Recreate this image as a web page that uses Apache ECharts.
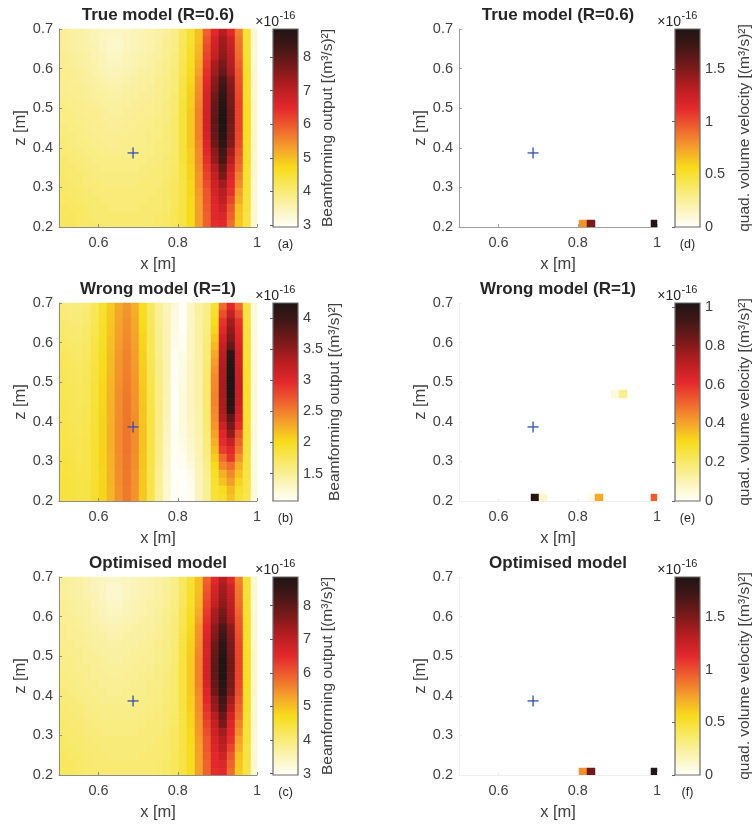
<!DOCTYPE html>
<html>
<head>
<meta charset="utf-8">
<script src="https://cdn.jsdelivr.net/npm/echarts@6/dist/echarts.min.js"></script>
<style>html,body{margin:0;padding:0;background:#fff}#chart{width:754px;height:825px}</style>
</head>
<body>
<div id="chart"></div>
<script>
// ---------- DATA ----------
// left edges (x) and top edges (z) of the 25 x 25 grid cells [m]
const xCellEdges = [0.5000,0.5202,0.5404,0.5606,0.5808,0.6010,0.6212,0.6414,0.6616,0.6818,0.7020,0.7222,0.7424,0.7626,0.7828,0.8030,0.8232,0.8434,0.8636,0.8838,0.9040,0.9242,0.9444,0.9646,0.9848];
const zCellEdges = [0.7024,0.6822,0.6620,0.6418,0.6216,0.6014,0.5812,0.5610,0.5408,0.5206,0.5004,0.4802,0.4600,0.4398,0.4196,0.3994,0.3792,0.3590,0.3388,0.3186,0.2984,0.2782,0.2580,0.2378,0.2176];
const cellSize = 0.0202;

const xTicks = [0.6, 0.8, 1.0];
const zTicks = [0.2, 0.3, 0.4, 0.5, 0.6, 0.7];

// Beamforming output, true model (R=0.6), x1e-16; rows from z=0.7 (top) down, columns from x=0.5
const beamTrueRows = [
 [3.75,3.7,3.65,3.6,3.5,3.45,3.4,3.4,3.45,3.5,3.55,3.6,3.65,3.75,3.9,4.2,4.55,5.0,5.9,6.5,7.1,6.5,5.6,4.5,3.3],
 [3.75,3.7,3.65,3.6,3.5,3.45,3.35,3.35,3.45,3.5,3.55,3.6,3.65,3.8,3.9,4.2,4.55,5.0,6.0,6.7,7.3,6.8,5.7,4.5,3.3],
 [3.75,3.7,3.65,3.6,3.55,3.45,3.35,3.35,3.45,3.5,3.55,3.6,3.7,3.8,3.9,4.25,4.6,5.05,6.1,6.8,7.4,6.9,5.75,4.5,3.3],
 [3.8,3.75,3.7,3.65,3.55,3.5,3.4,3.4,3.5,3.55,3.6,3.65,3.7,3.8,3.95,4.25,4.6,5.1,6.2,6.9,7.5,7.0,5.8,4.55,3.3],
 [3.8,3.75,3.7,3.65,3.6,3.5,3.45,3.45,3.5,3.55,3.6,3.65,3.75,3.85,3.95,4.3,4.65,5.2,6.3,7.2,7.7,7.1,5.9,4.55,3.3],
 [3.8,3.8,3.75,3.7,3.6,3.55,3.5,3.5,3.55,3.6,3.65,3.7,3.75,3.85,4.0,4.3,4.7,5.3,6.4,7.3,7.9,7.2,6.0,4.6,3.35],
 [3.85,3.8,3.75,3.7,3.65,3.6,3.55,3.55,3.6,3.65,3.7,3.7,3.8,3.9,4.0,4.35,4.75,5.4,6.5,7.5,8.2,7.5,6.05,4.6,3.35],
 [3.85,3.8,3.8,3.75,3.7,3.65,3.6,3.6,3.65,3.7,3.7,3.75,3.8,3.9,4.0,4.4,4.8,5.45,6.6,7.6,8.4,7.6,6.1,4.6,3.35],
 [3.85,3.85,3.8,3.75,3.7,3.7,3.65,3.65,3.7,3.7,3.75,3.75,3.85,3.9,4.05,4.4,4.85,5.5,6.7,7.8,8.6,7.7,6.15,4.6,3.35],
 [3.9,3.85,3.85,3.8,3.75,3.7,3.7,3.7,3.7,3.75,3.75,3.8,3.85,3.95,4.05,4.45,4.85,5.55,6.7,7.9,8.7,7.75,6.2,4.65,3.4],
 [3.9,3.9,3.85,3.8,3.8,3.75,3.7,3.7,3.75,3.75,3.8,3.8,3.85,3.95,4.05,4.45,4.9,5.6,6.75,7.95,8.8,7.8,6.2,4.65,3.4],
 [3.9,3.9,3.85,3.85,3.8,3.75,3.75,3.75,3.75,3.8,3.8,3.85,3.9,3.95,4.1,4.45,4.9,5.6,6.75,8.0,8.84,7.8,6.2,4.65,3.4],
 [3.95,3.9,3.9,3.85,3.8,3.8,3.75,3.75,3.8,3.8,3.85,3.85,3.9,4.0,4.1,4.45,4.9,5.6,6.75,7.95,8.8,7.75,6.2,4.65,3.4],
 [3.95,3.95,3.9,3.85,3.85,3.8,3.8,3.8,3.8,3.85,3.85,3.9,3.9,4.0,4.1,4.45,4.9,5.6,6.7,7.9,8.7,7.7,6.15,4.65,3.4],
 [4.0,3.95,3.9,3.9,3.85,3.85,3.8,3.8,3.85,3.85,3.85,3.9,3.95,4.0,4.1,4.45,4.9,5.55,6.6,7.8,8.6,7.6,6.1,4.6,3.4],
 [4.0,4.0,3.95,3.9,3.9,3.85,3.85,3.85,3.85,3.9,3.9,3.9,3.95,4.0,4.1,4.45,4.85,5.5,6.5,7.5,8.35,7.3,6.0,4.6,3.35],
 [4.05,4.0,4.0,3.95,3.9,3.9,3.9,3.9,3.9,3.9,3.9,3.95,3.95,4.05,4.1,4.45,4.85,5.5,6.4,7.4,8.2,7.1,5.9,4.6,3.35],
 [4.05,4.05,4.0,3.95,3.95,3.9,3.9,3.9,3.9,3.9,3.95,3.95,4.0,4.05,4.15,4.4,4.8,5.45,6.3,7.1,7.9,6.8,5.8,4.55,3.35],
 [4.1,4.05,4.05,4.0,3.95,3.95,3.95,3.95,3.95,3.95,3.95,4.0,4.0,4.05,4.15,4.4,4.8,5.4,6.2,6.9,7.7,6.6,5.6,4.55,3.35],
 [4.1,4.1,4.05,4.0,4.0,3.95,3.95,3.95,3.95,3.95,4.0,4.0,4.0,4.1,4.2,4.4,4.75,5.4,6.1,6.8,7.3,6.5,5.5,4.5,3.3],
 [4.15,4.1,4.1,4.05,4.0,4.0,4.0,4.0,4.0,4.0,4.0,4.0,4.05,4.1,4.2,4.4,4.75,5.35,6.0,6.7,7.1,6.4,5.3,4.5,3.3],
 [4.15,4.15,4.1,4.05,4.05,4.0,4.0,4.0,4.0,4.0,4.0,4.05,4.05,4.1,4.2,4.4,4.7,5.3,6.0,6.6,7.0,6.2,5.2,4.45,3.3],
 [4.2,4.15,4.15,4.1,4.05,4.05,4.0,4.0,4.0,4.0,4.05,4.05,4.05,4.1,4.25,4.4,4.7,5.3,5.95,6.5,6.8,6.0,5.0,4.45,3.3],
 [4.2,4.2,4.15,4.1,4.05,4.05,4.05,4.05,4.05,4.05,4.05,4.05,4.1,4.15,4.25,4.4,4.7,5.3,5.9,6.5,6.6,5.9,4.95,4.4,3.3],
 [4.2,4.2,4.15,4.1,4.1,4.05,4.05,4.05,4.05,4.05,4.05,4.05,4.1,4.15,4.25,4.4,4.7,5.3,5.9,6.45,6.5,5.8,4.9,4.4,3.3]
];

// Beamforming output, wrong model (R=1), x1e-16; one array per x column, values from z=0.7 (top) down
const beamWrongCols = [
 [1.62,1.64,1.66,1.68,1.7,1.72,1.74,1.75,1.76,1.77,1.78,1.78,1.79,1.8,1.8,1.81,1.82,1.83,1.84,1.85,1.86,1.87,1.88,1.88,1.88],
 [1.6,1.62,1.64,1.66,1.68,1.7,1.72,1.73,1.74,1.75,1.76,1.76,1.77,1.78,1.78,1.79,1.8,1.81,1.82,1.83,1.84,1.85,1.86,1.86,1.86],
 [1.6,1.62,1.63,1.65,1.67,1.69,1.7,1.71,1.72,1.73,1.74,1.74,1.75,1.76,1.76,1.77,1.78,1.79,1.8,1.8,1.81,1.82,1.83,1.83,1.83],
 [1.64,1.66,1.67,1.69,1.7,1.72,1.73,1.74,1.75,1.76,1.77,1.77,1.78,1.79,1.79,1.8,1.8,1.81,1.82,1.82,1.83,1.83,1.84,1.84,1.84],
 [1.75,1.77,1.78,1.8,1.81,1.83,1.84,1.85,1.86,1.87,1.88,1.88,1.89,1.9,1.9,1.9,1.91,1.91,1.92,1.92,1.92,1.92,1.93,1.93,1.93],
 [1.92,1.93,1.95,1.96,1.97,1.98,2.0,2.01,2.02,2.03,2.04,2.04,2.05,2.05,2.06,2.06,2.06,2.06,2.06,2.06,2.06,2.05,2.05,2.05,2.05],
 [2.1,2.12,2.13,2.14,2.16,2.17,2.18,2.19,2.2,2.21,2.22,2.23,2.23,2.24,2.24,2.25,2.25,2.25,2.25,2.24,2.24,2.23,2.23,2.22,2.22],
 [2.28,2.3,2.31,2.33,2.34,2.35,2.37,2.38,2.39,2.4,2.41,2.42,2.42,2.43,2.43,2.44,2.44,2.44,2.44,2.43,2.43,2.42,2.42,2.41,2.41],
 [2.38,2.4,2.42,2.43,2.45,2.46,2.48,2.49,2.5,2.51,2.52,2.53,2.54,2.55,2.55,2.56,2.56,2.56,2.56,2.55,2.55,2.54,2.54,2.53,2.53],
 [2.25,2.27,2.29,2.3,2.32,2.33,2.35,2.36,2.37,2.38,2.39,2.4,2.41,2.41,2.42,2.42,2.43,2.43,2.43,2.42,2.42,2.41,2.41,2.4,2.4],
 [1.98,2.0,2.02,2.03,2.05,2.06,2.08,2.09,2.1,2.11,2.12,2.13,2.13,2.14,2.14,2.15,2.15,2.15,2.15,2.14,2.14,2.13,2.13,2.12,2.12],
 [1.72,1.73,1.74,1.75,1.76,1.77,1.78,1.79,1.8,1.81,1.82,1.82,1.83,1.83,1.84,1.84,1.84,1.84,1.84,1.83,1.83,1.82,1.82,1.81,1.81],
 [1.5,1.51,1.52,1.53,1.54,1.55,1.55,1.56,1.56,1.57,1.57,1.57,1.57,1.57,1.57,1.56,1.56,1.55,1.55,1.54,1.53,1.52,1.51,1.5,1.5],
 [1.36,1.37,1.37,1.38,1.38,1.38,1.38,1.38,1.38,1.38,1.37,1.37,1.36,1.36,1.35,1.34,1.33,1.32,1.31,1.3,1.28,1.27,1.26,1.25,1.25],
 [1.22,1.2,1.19,1.18,1.16,1.14,1.12,1.11,1.1,1.1,1.09,1.09,1.09,1.09,1.09,1.09,1.09,1.09,1.09,1.09,1.08,1.08,1.08,1.08,1.08],
 [1.08,1.08,1.08,1.09,1.1,1.12,1.14,1.16,1.17,1.18,1.19,1.2,1.2,1.2,1.2,1.19,1.18,1.16,1.14,1.12,1.1,1.08,1.07,1.07,1.07],
 [1.3,1.3,1.3,1.3,1.3,1.31,1.31,1.32,1.32,1.32,1.33,1.33,1.33,1.33,1.32,1.31,1.3,1.28,1.26,1.24,1.2,1.16,1.13,1.12,1.12],
 [1.46,1.46,1.45,1.45,1.44,1.44,1.43,1.43,1.43,1.42,1.42,1.42,1.42,1.42,1.41,1.41,1.4,1.39,1.38,1.37,1.36,1.35,1.34,1.34,1.34],
 [1.56,1.57,1.58,1.59,1.6,1.62,1.63,1.65,1.66,1.67,1.68,1.68,1.68,1.67,1.66,1.65,1.63,1.61,1.59,1.57,1.55,1.53,1.51,1.5,1.5],
 [1.9,1.95,2.0,2.05,2.12,2.2,2.28,2.35,2.4,2.44,2.46,2.47,2.47,2.45,2.42,2.38,2.32,2.25,2.18,2.1,2.02,1.96,1.92,1.9,1.88],
 [2.6,2.75,2.9,2.98,3.1,3.2,3.27,3.32,3.35,3.37,3.38,3.38,3.37,3.35,3.3,3.15,3.0,2.95,2.85,2.6,2.45,2.25,2.15,2.0,1.95],
 [3.0,3.2,3.4,3.5,3.6,3.75,4.1,4.18,4.22,4.24,4.24,4.22,4.18,4.1,3.8,3.65,3.5,3.2,3.0,2.9,2.6,2.45,2.35,2.2,2.15],
 [2.6,2.75,2.9,2.95,3.0,3.05,3.1,3.12,3.15,3.17,3.18,3.18,3.16,3.12,3.05,2.95,2.75,2.65,2.55,2.4,2.25,2.15,2.05,1.95,1.9],
 [1.85,1.86,1.87,1.88,1.89,1.9,1.9,1.91,1.92,1.92,1.93,1.93,1.93,1.92,1.92,1.91,1.9,1.89,1.88,1.87,1.86,1.85,1.83,1.82,1.8],
 [1.2,1.2,1.2,1.2,1.21,1.21,1.21,1.22,1.22,1.22,1.22,1.22,1.22,1.22,1.22,1.21,1.21,1.21,1.2,1.2,1.2,1.2,1.2,1.2,1.2]
];

// Optimised model: the map reads the same as the true model
const beamOptimisedRows = beamTrueRows;

// quad. volume velocity, sparse cells: [x left edge, z top edge, value x1e-16]
const qvvTrue = [[0.8030,0.2176,0.79],[0.8232,0.2176,1.52],[0.9848,0.2176,1.85]];
const qvvWrong = [[0.6818,0.2176,1.0],[0.7020,0.2176,0.07],[0.8232,0.2176,0.03],[0.8434,0.2176,0.39],[0.9848,0.2176,0.52],[0.8838,0.4802,0.04],[0.9040,0.4802,0.15]];
const qvvOptimised = [[0.8030,0.2176,0.80],[0.8232,0.2176,1.55],[0.9848,0.2176,1.86]];

// source position (blue cross)
const sourcePos = [[0.687, 0.387]];

// colour-bar ranges and ticks (x1e-16)
const beamRangeTrue = [2.94, 8.84];
const beamTicksTrue = [3, 4, 5, 6, 7, 8];
const beamRangeWrong = [1.06, 4.24];
const beamTicksWrong = [1.5, 2, 2.5, 3, 3.5, 4];
const beamRangeOpt = [2.96, 8.85];
const beamTicksOpt = [3, 4, 5, 6, 7, 8];
const qvvRangeTrue = [0, 1.88];
const qvvTicksTrue = [0, 0.5, 1, 1.5];
const qvvRangeWrong = [0, 1.02];
const qvvTicksWrong = [0, 0.2, 0.4, 0.6, 0.8, 1];
const qvvRangeOpt = [0, 1.88];
const qvvTicksOpt = [0, 0.5, 1, 1.5];

// ---------- STYLE ----------
const COLORMAP = ['#fffffb','#fbf3b4','#f8e968','#f7dc1c','#f4a02c','#ee622e','#e3282d','#b81e22','#7c1a1a','#451717','#1d1515'];
const FONT = '"Liberation Sans", Arial, Helvetica, sans-serif';
const LABEL_COLOR = '#404040';
const ROW_TOPS = [29, 303, 577];
const COLS = [{plotLeft: 59, cbarLeft: 273}, {plotLeft: 459, cbarLeft: 675}];
const PLOT = 198, CBAR_W = 25;

function cellsFromRows(rows) {
  const out = [];
  rows.forEach((row, r) => row.forEach((v, c) => out.push([xCellEdges[c], zCellEdges[r], v])));
  return out;
}
function cellsFromCols(cols) {
  const out = [];
  cols.forEach((col, c) => col.forEach((v, r) => out.push([xCellEdges[c], zCellEdges[r], v])));
  return out;
}
const fmt = v => String(Math.round(v * 1000) / 1000);

const BEAM_TITLE = 'Beamforming output [(m³/s)²]';
const QVV_TITLE = 'quad. volume velocity [(m³/s)²]';

const panels = [
  {row:0, col:0, title:'True model (R=0.6)', cells: cellsFromRows(beamTrueRows), range: beamRangeTrue, ticks: beamTicksTrue, tag:'(a)', cbarTitle: BEAM_TITLE, gap: 22, axisColor:'#8c8c8c'},
  {row:1, col:0, title:'Wrong model (R=1)', cells: cellsFromCols(beamWrongCols), range: beamRangeWrong, ticks: beamTicksWrong, tag:'(b)', cbarTitle: BEAM_TITLE, gap: 29, axisColor:'#8c8c8c'},
  {row:2, col:0, title:'Optimised model', cells: cellsFromRows(beamOptimisedRows), range: beamRangeOpt, ticks: beamTicksOpt, tag:'(c)', cbarTitle: BEAM_TITLE, gap: 22, axisColor:'#8c8c8c'},
  {row:0, col:1, title:'True model (R=0.6)', cells: qvvTrue, range: qvvRangeTrue, ticks: qvvTicksTrue, tag:'(d)', cbarTitle: QVV_TITLE, gap: 37, axisColor:'#a0a0a0'},
  {row:1, col:1, title:'Wrong model (R=1)', cells: qvvWrong, range: qvvRangeWrong, ticks: qvvTicksWrong, tag:'(e)', cbarTitle: QVV_TITLE, gap: 37, axisColor:'#eeeeee'},
  {row:2, col:1, title:'Optimised model', cells: qvvOptimised, range: qvvRangeOpt, ticks: qvvTicksOpt, tag:'(f)', cbarTitle: QVV_TITLE, gap: 37, axisColor:'#eeeeee'}
];

const chart = echarts.init(document.getElementById('chart'), null, {renderer: 'canvas'});
const option = {animation: false, backgroundColor: '#ffffff', grid: [], xAxis: [], yAxis: [], series: [], visualMap: [], graphic: []};

function renderCell(params, api) {
  const x0 = api.value(0), zt = api.value(1);
  const p0 = api.coord([x0, zt]);
  const p1 = api.coord([x0 + cellSize, zt - cellSize]);
  const cs = params.coordSys;
  const shape = echarts.graphic.clipRectByRect(
    {x: p0[0], y: p0[1], width: p1[0] - p0[0], height: p1[1] - p0[1]},
    {x: cs.x, y: cs.y, width: cs.width, height: cs.height});
  if (!shape) return null;
  const c = api.visual('color');
  return {type: 'rect', shape: shape, style: {fill: c, stroke: c, lineWidth: 0.5}};
}
function renderCross(params, api) {
  const p = api.coord([api.value(0), api.value(1)]);
  const s = {stroke: '#2f4fa8', lineWidth: 1.3};
  return {type: 'group', children: [
    {type: 'line', shape: {x1: p[0] - 5.5, y1: p[1], x2: p[0] + 5.5, y2: p[1]}, style: s},
    {type: 'line', shape: {x1: p[0], y1: p[1] - 5.5, x2: p[0], y2: p[1] + 5.5}, style: s}
  ]};
}
const gradStops = COLORMAP.map((c, i) => ({offset: i / (COLORMAP.length - 1), color: c}));

panels.forEach((p, i) => {
  const top = ROW_TOPS[p.row];
  const L = COLS[p.col];
  const gPlot = 2 * i, gBar = 2 * i + 1;
  option.grid.push({left: L.plotLeft, top: top, width: PLOT, height: PLOT, outerBoundsMode: 'none', containLabel: false});
  option.grid.push({left: L.cbarLeft, top: top, width: CBAR_W, height: PLOT, outerBoundsMode: 'none', containLabel: false});

  const lab = {fontSize: 14.5, color: LABEL_COLOR, fontFamily: FONT, formatter: fmt};
  option.xAxis.push({gridIndex: gPlot, type: 'value', min: 0.5, max: 1.0, z: 10,
    name: 'x [m]', nameLocation: 'middle', nameGap: 29, nameMoveOverlap: false,
    nameTextStyle: {fontSize: 16.5, color: LABEL_COLOR, fontFamily: FONT},
    axisLine: {show: true, onZero: false, lineStyle: {color: p.axisColor, width: 1}},
    axisTick: {show: true, inside: true, length: 3, customValues: xTicks, lineStyle: {color: p.axisColor}},
    axisLabel: Object.assign({margin: 8, customValues: xTicks}, lab),
    splitLine: {show: false}});
  option.yAxis.push({gridIndex: gPlot, type: 'value', min: 0.2, max: 0.7, z: 10,
    name: 'z [m]', nameLocation: 'middle', nameGap: 30, nameRotate: 90, nameMoveOverlap: false,
    nameTextStyle: {fontSize: 16.5, color: LABEL_COLOR, fontFamily: FONT},
    axisLine: {show: true, onZero: false, lineStyle: {color: p.axisColor, width: 1}},
    axisTick: {show: true, inside: true, length: 3, customValues: zTicks, lineStyle: {color: p.axisColor}},
    axisLabel: Object.assign({margin: 6, customValues: zTicks}, lab),
    splitLine: {show: false}});
  option.xAxis.push({gridIndex: gBar, type: 'value', min: 0, max: 1, show: false});
  option.yAxis.push({gridIndex: gBar, type: 'value', position: 'right', min: p.range[0], max: p.range[1], z: 10,
    name: p.cbarTitle, nameLocation: 'middle', nameGap: p.gap, nameRotate: 90, nameMoveOverlap: false,
    nameTextStyle: {fontSize: 15.5, color: LABEL_COLOR, fontFamily: FONT},
    axisLine: {show: false},
    axisTick: {show: true, inside: true, length: 3, customValues: p.ticks, lineStyle: {color: '#606060'}},
    axisLabel: Object.assign({margin: 5, customValues: p.ticks}, lab),
    splitLine: {show: false}});

  const heatIdx = option.series.length;
  option.series.push({type: 'custom', xAxisIndex: gPlot, yAxisIndex: gPlot, data: p.cells,
    encode: {x: 0, y: 1}, renderItem: renderCell, z: 2, silent: true});
  option.series.push({type: 'custom', xAxisIndex: gPlot, yAxisIndex: gPlot, data: sourcePos,
    encode: {x: 0, y: 1}, renderItem: renderCross, z: 5, silent: true});
  const rng = p.range;
  option.series.push({type: 'custom', xAxisIndex: gBar, yAxisIndex: gBar, data: [[0, rng[0]]],
    encode: {x: 0, y: 1}, z: 2, silent: true,
    renderItem: (params, api) => {
      const a = api.coord([0, rng[1]]), b = api.coord([1, rng[0]]);
      return {type: 'rect', shape: {x: a[0], y: a[1], width: b[0] - a[0], height: b[1] - a[1]},
        style: {fill: new echarts.graphic.LinearGradient(0, 1, 0, 0, gradStops), stroke: '#6a6a6a', lineWidth: 1.2}};
    }});
  option.visualMap.push({type: 'continuous', show: false, seriesIndex: heatIdx, dimension: 2,
    min: rng[0], max: rng[1], inRange: {color: COLORMAP}});

  const txt = (x, y, text, font, align) => ({type: 'text', x: x, y: y, silent: true,
    style: {text: text, font: font, fill: '#262626', align: align, textAlign: align, verticalAlign: 'middle', textVerticalAlign: 'middle'}});
  option.graphic.push(txt(L.plotLeft + PLOT / 2, top - 14, p.title, 'bold 17px ' + FONT, 'center'));
  option.graphic.push(txt(L.cbarLeft + 6, top - 6.5, '×10', '14px ' + FONT, 'right'));
  option.graphic.push(txt(L.cbarLeft + 6.5, top - 13, '-16', '11px ' + FONT, 'left'));
  option.graphic.push(txt(L.cbarLeft + CBAR_W / 2, top + 216, p.tag, '12.5px ' + FONT, 'center'));
});

chart.setOption(option);
</script>
</body>
</html>
